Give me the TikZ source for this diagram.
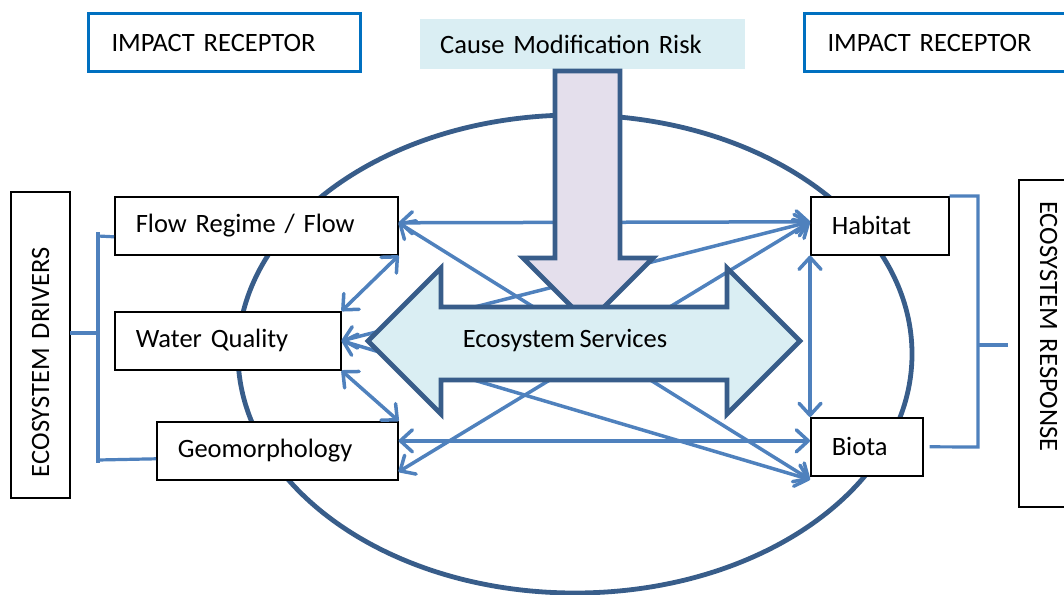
\documentclass[tikz,border=0pt]{standalone}
\usepackage{fontspec}
\setmainfont[WordSpace=0.75]{Carlito}
\usetikzlibrary{arrows.meta, calc}
\definecolor{linkblue}{HTML}{4F81BD}
\definecolor{rimblue}{HTML}{385D8A}
\definecolor{irblue}{HTML}{0070C0}
\definecolor{aqua}{HTML}{DAEEF3}
\definecolor{lavender}{HTML}{E4DFEC}
\newcommand{\lbl}{\fontsize{26.5}{30}\selectfont}

\begin{document}
\begin{tikzpicture}[
    x=1pt, y=-1pt,
    every node/.style={font=\lbl, inner ysep=0pt},
    box/.style={draw=black, line width=1.6pt, fill=white, minimum height=58pt, inner xsep=21pt, align=left, anchor=north west},
    irbox/.style={draw=irblue, line width=3pt, fill=white, minimum height=58pt, inner xsep=23pt, text width=226pt, align=left, anchor=north west},
    link/.style={draw=linkblue, line width=3.5pt, {Straight Barb[length=12pt,width=22pt,round]}-{Straight Barb[length=12pt,width=22pt,round]}},
    brace/.style={draw=linkblue, line width=3.2pt},
    bigarrow/.style={draw=rimblue, line width=4.8pt}
]
    \useasboundingbox (0,0) rectangle (1064,594);
    \clip (0,0) rectangle (1064,594);

    % Outer ring
    \draw[draw=rimblue, line width=4.8pt] (575,354) ellipse [x radius=337, y radius=239];

    % Top Level
    \node[irbox] (IRLEFT) at (87,12) {IMPACT RECEPTOR};
    \node[irbox] (IRRIGHT) at (803,12) {IMPACT RECEPTOR};
    \node[fill=aqua, minimum height=50pt, inner xsep=20pt, text width=285pt, align=left, anchor=north west] (CAUSE) at (420,19) {Cause Modification Risk};

    % Drivers
    \node[box, text width=241pt] (FLOW) at (114,196) {Flow Regime / Flow};
    \node[box, text width=184pt] (WQ) at (114,311) {Water Quality};
    \node[box, text width=199pt] (GEO) at (156,421) {Geomorphology};

    % Responses
    \node[box, text width=96pt] (HABITAT) at (810,196) {Habitat};
    \node[box, text width=70pt] (BIOTA) at (810,417) {Biota};

    % Side labels
    \node[box, anchor=center, rotate=90, minimum height=59pt, text width=264pt] (DRIVERS) at (40.5,345) {ECOSYSTEM DRIVERS};
    \node[box, anchor=center, rotate=-90, minimum height=59pt, text width=285pt] (RESPONSE) at (1048.5,343.5) {ECOSYSTEM RESPONSE};

    % Brackets
    \draw[brace] (98,232) -- (98,463);
    \draw[brace] (98,236) -- ([yshift=-11pt]FLOW.west);
    \draw[brace] (98,460) -- ([yshift=-8pt]GEO.west);
    \draw[brace] (70,333) -- (98,333);
    \draw[brace] (HABITAT.north east) -| (978,447) -- ([xshift=6pt]BIOTA.east);
    \draw[brace] (978,345) -- (1008,345);

    % Links
    \path[link] ([yshift=3pt]FLOW.east) -- ([yshift=4pt]HABITAT.west);
    \path[link] ([yshift=3pt]FLOW.east) -- ([yshift=-3pt]BIOTA.south west);
    \path[link] (FLOW.south east) -- (WQ.north east);
    \path[link] (WQ.south east) -- (GEO.north east);
    \path[link] (WQ.east) -- ([yshift=4pt]HABITAT.west);
    \path[link] (WQ.east) -- ([yshift=-3pt]BIOTA.south west);
    \path[link] ([yshift=-21pt]GEO.east) -- ([yshift=4pt]HABITAT.west);
    \path[link] ([yshift=10pt]GEO.east) -- ([yshift=6pt]BIOTA.west);
    \path[link] (HABITAT.south west) -- (BIOTA.north west);

    % Cause arrow
    \draw[bigarrow, fill=lavender] (555,71) -- (620,71) -- (620,258) -- (653,258)
        -- (588,323) -- (523,258) -- (555,258) -- cycle;

    % Services arrow
    \draw[bigarrow, fill=aqua] (368,341) -- (441,268) -- (441,307) -- (727,307) -- (727,268)
        -- (800,341) -- (727,414) -- (727,380) -- (441,380) -- (441,414) -- cycle;
    \node (ES) at (565,341) {Ecosystem Services};

\end{tikzpicture}
\end{document}
